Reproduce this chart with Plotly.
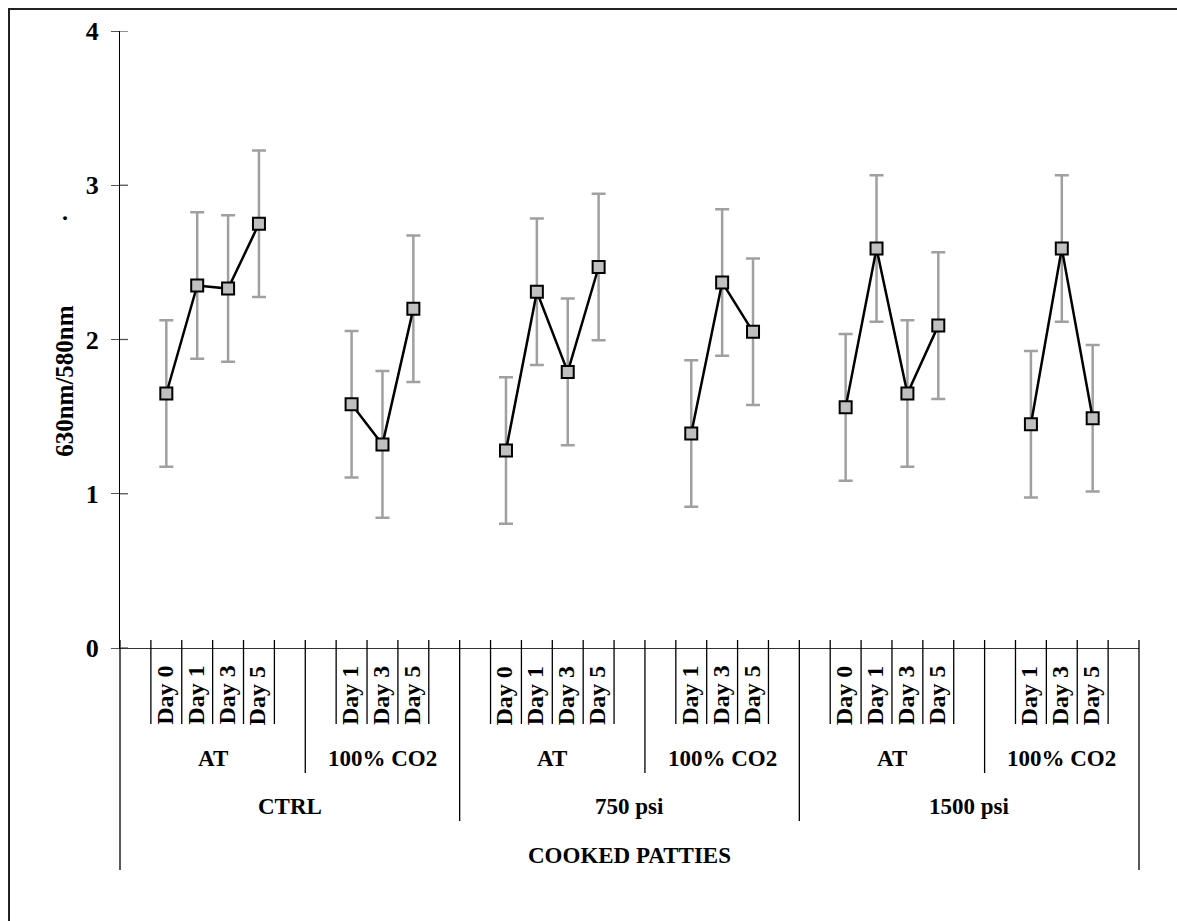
import plotly.graph_objects as go

# ---- data -------------------------------------------------------------
pressures = ["CTRL", "750 psi", "1500 psi"]
atmospheres = ["AT", "100% CO2"]
days_at = ["Day 0", "Day 1", "Day 3", "Day 5"]
days_co2 = ["Day 1", "Day 3", "Day 5"]
group_title = "COOKED PATTIES"

ctrl_at = [1.65, 2.35, 2.33, 2.75]
ctrl_co2 = [1.58, 1.32, 2.20]
psi750_at = [1.28, 2.31, 1.79, 2.47]
psi750_co2 = [1.39, 2.37, 2.05]
psi1500_at = [1.56, 2.59, 1.65, 2.09]
psi1500_co2 = [1.45, 2.59, 1.49]

err_ctrl_at = [0.475, 0.475, 0.475, 0.475]
err_ctrl_co2 = [0.475, 0.475, 0.475]
err_750_at = [0.475, 0.475, 0.475, 0.475]
err_750_co2 = [0.475, 0.475, 0.475]
err_1500_at = [0.475, 0.475, 0.475, 0.475]
err_1500_co2 = [0.475, 0.475, 0.475]

y_ticks = [0, 1, 2, 3, 4]
y_title = "630nm/580nm"

series = {
    ("CTRL", "AT"): (ctrl_at, err_ctrl_at),
    ("CTRL", "100% CO2"): (ctrl_co2, err_ctrl_co2),
    ("750 psi", "AT"): (psi750_at, err_750_at),
    ("750 psi", "100% CO2"): (psi750_co2, err_750_co2),
    ("1500 psi", "AT"): (psi1500_at, err_1500_at),
    ("1500 psi", "100% CO2"): (psi1500_co2, err_1500_co2),
}
day_lists = {"AT": days_at, "100% CO2": days_co2}

# ---- category layout: each sub-group gets one empty slot on both sides --
FONT = "Liberation Serif"
slots = []          # (pressure, atmosphere, day-or-None)
for p in pressures:
    for a in atmospheres:
        slots.append((p, a, None))
        for d in day_lists[a]:
            slots.append((p, a, d))
        slots.append((p, a, None))
n_slots = len(slots)

fig = go.Figure()

annotations = []
shapes = []

for p in pressures:
    for a in atmospheres:
        idx = [i for i, s in enumerate(slots) if s[0] == p and s[1] == a and s[2] is not None]
        vals, errs = series[(p, a)]
        fig.add_trace(go.Scatter(
            x=[i + 0.5 for i in idx], y=vals,
            mode="lines+markers",
            line=dict(color="black", width=2.5),
            marker=dict(symbol="square", size=12, color="#C0C0C0",
                        line=dict(color="black", width=2)),
            error_y=dict(type="data", array=errs, visible=True,
                         color="#A0A0A0", thickness=2.5, width=7),
            showlegend=False, hoverinfo="skip",
        ))
        for i in idx:
            annotations.append(dict(
                x=i + 0.5, y=0, xref="x", yref="y",
                text="<b>%s</b>" % slots[i][2], textangle=-90,
                showarrow=False, xanchor="center", yanchor="bottom",
                xshift=-2, yshift=-79,
                font=dict(family=FONT, size=24, color="black"),
            ))

# separators between categories (lengths grow with hierarchy level);
# paper x = slot boundary / number of slots, since the x range is [0, n_slots]
def vline(b, down, up=8, width=1.3, color="black"):
    xp = b / n_slots
    shapes.append(dict(type="line", xref="paper", yref="paper", x0=xp, x1=xp,
                       ysizemode="pixel", yanchor=0, y0=up, y1=-down,
                       line=dict(color=color, width=width)))

for b in range(0, n_slots + 1):
    left = slots[b - 1] if b > 0 else None
    right = slots[b] if b < n_slots else None
    if left is None or right is None:
        vline(b, 222)
    elif left[0] != right[0]:
        vline(b, 173)
    elif left[1] != right[1]:
        vline(b, 125)
    else:
        vline(b, 76)

# atmosphere and pressure labels
for p in pressures:
    pidx = [i for i, s in enumerate(slots) if s[0] == p]
    for a in atmospheres:
        aidx = [i for i, s in enumerate(slots) if s[0] == p and s[1] == a]
        annotations.append(dict(
            x=(aidx[0] + aidx[-1] + 1) / 2, y=0, xref="x", yref="y",
            text="<b>%s</b>" % a, showarrow=False, xanchor="center",
            yanchor="middle", yshift=-110,
            font=dict(family=FONT, size=23, color="black")))
    annotations.append(dict(
        x=(pidx[0] + pidx[-1] + 1) / 2, y=0, xref="x", yref="y",
        text="<b>%s</b>" % p, showarrow=False, xanchor="center",
        yanchor="middle", yshift=-158,
        font=dict(family=FONT, size=23, color="black")))

annotations.append(dict(
    x=n_slots / 2, y=0, xref="x", yref="y",
    text="<b>%s</b>" % group_title, showarrow=False, xanchor="center",
    yanchor="middle", yshift=-207,
    font=dict(family=FONT, size=23, color="black")))

# y-axis title and the stray period above it
annotations.append(dict(
    x=0, y=0.433, xref="x", yref="paper", xshift=-55,
    text="<b>%s</b>" % y_title, textangle=-90, showarrow=False,
    xanchor="center", yanchor="middle",
    font=dict(family=FONT, size=25, color="black")))
annotations.append(dict(
    x=0, y=0.697, xref="x", yref="paper", xshift=-55,
    text="<b>.</b>", showarrow=False, xanchor="center", yanchor="bottom",
    yshift=-9, font=dict(family=FONT, size=24, color="black")))

# inner halves of the y ticks (they cross the axis line)
for t in y_ticks:
    shapes.append(dict(type="line", xref="x", yref="y", y0=t, y1=t,
                       xsizemode="pixel", xanchor=0, x0=0, x1=8,
                       line=dict(color="#555555", width=1.3)))

# chart frame
shapes.append(dict(type="rect", xref="paper", yref="paper",
                   x0=-111 / 1019, x1=1.3, y0=-0.7, y1=1 + 22 / 617,
                   line=dict(color="#222222", width=2), layer="below"))

fig.update_layout(
    width=1177, height=921, autosize=False,
    margin=dict(l=120, r=38, t=31, b=273),
    plot_bgcolor="white", paper_bgcolor="white",
    shapes=shapes, annotations=annotations,
    xaxis=dict(range=[0, n_slots], showgrid=False, zeroline=False,
               showline=True, linecolor="#333333", linewidth=1.3,
               showticklabels=False, ticks=""),
    yaxis=dict(range=[0, 4], tickvals=y_ticks, showgrid=False,
               zeroline=False, showline=True, linecolor="black",
               linewidth=1.3, ticks="outside", ticklen=8,
               tickcolor="#555555", tickwidth=1.3, ticklabelstandoff=7,
               tickfont=dict(family=FONT, size=26, color="black",
                             weight="bold")),
)

fig.write_html("out.html")
